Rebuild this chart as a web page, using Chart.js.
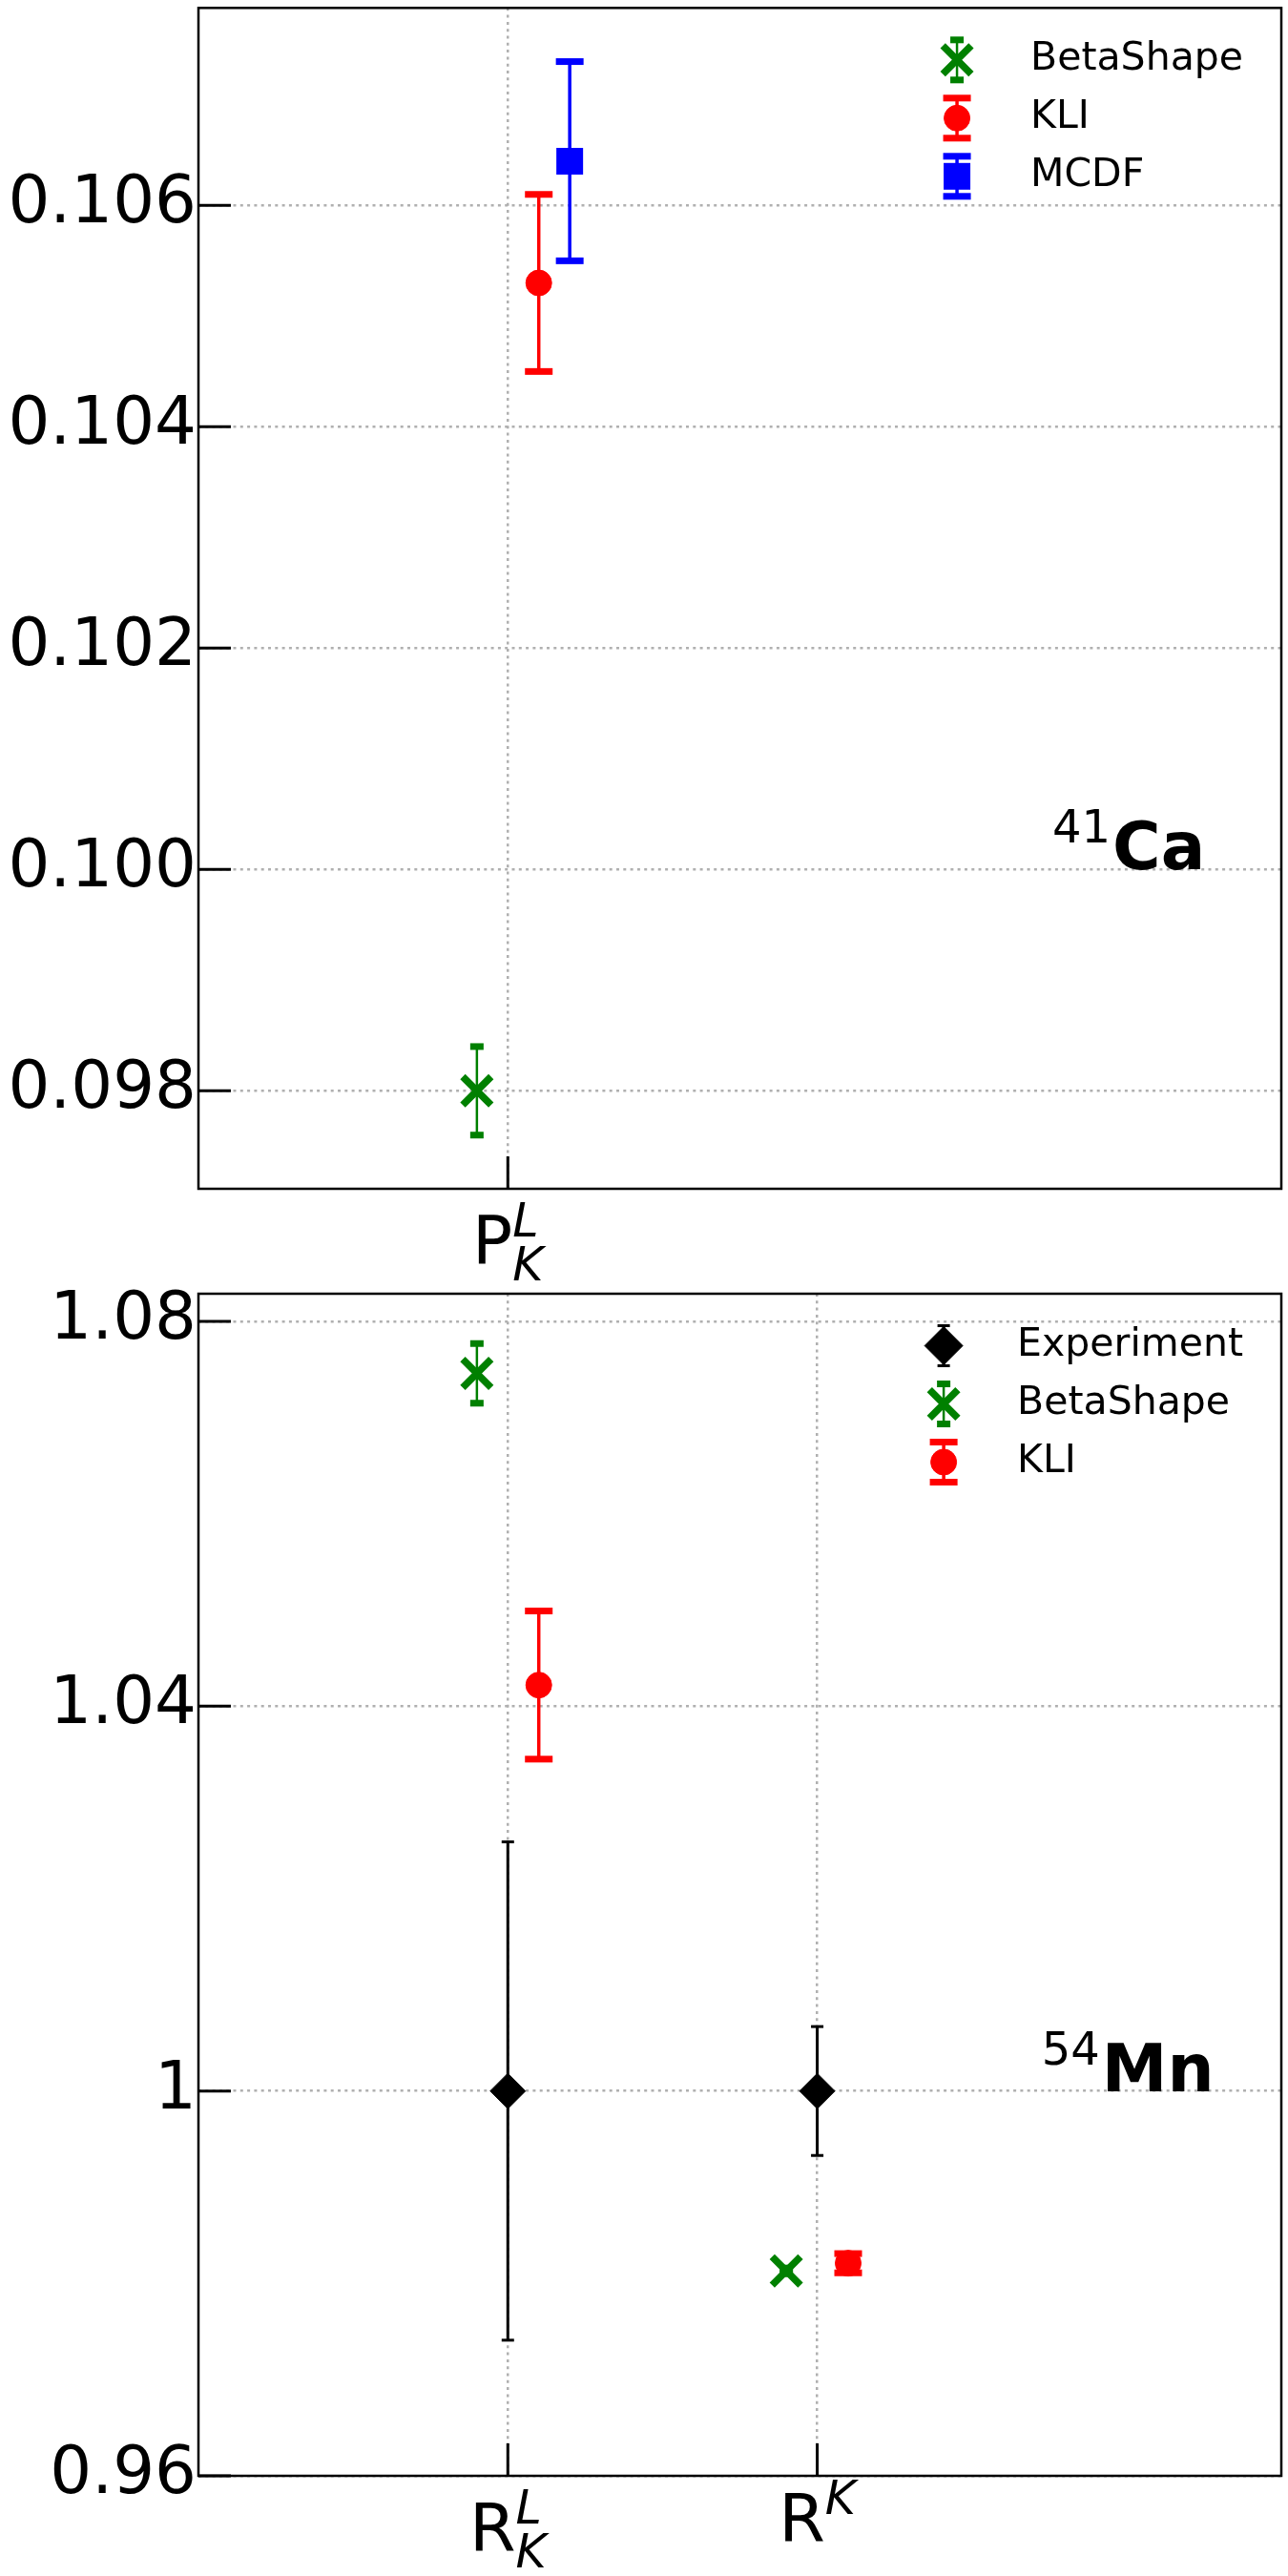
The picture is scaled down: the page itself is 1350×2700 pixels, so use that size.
<!DOCTYPE html>
<html><head><meta charset="utf-8">
<script src="https://cdn.jsdelivr.net/npm/chart.js"></script>
<style>
html,body{margin:0;padding:0;background:#fff;}
#wrap{position:relative;width:1350px;height:2700px;background:#fff;}
.panel{position:absolute;left:0;width:1350px;height:1350px;}
canvas{display:block;}
</style></head><body>
<div id="wrap">
<div class="panel" style="top:0"><canvas id="caChart" width="1350" height="1350"></canvas></div>
<div class="panel" style="top:1350px"><canvas id="mnChart" width="1350" height="1350"></canvas></div>
</div>
<script>
// ---------- DATA ----------
// 41Ca panel
const caCategories = ['P'];
const caCategorySub = ['K'];
const caCategorySup = ['L'];
const caBetaShape = [0.0980];
const caBetaShapeErr = [0.0004];
const caKLI = [0.1053];
const caKLIErr = [0.0008];
const caMCDF = [0.1064];
const caMCDFErr = [0.0009];
const caYTicks = [0.098, 0.100, 0.102, 0.104, 0.106];
const caYTickLabels = ['0.098', '0.100', '0.102', '0.104', '0.106'];

// 54Mn panel
const mnCategories = ['R', 'R'];
const mnCategorySub = ['K', ''];
const mnCategorySup = ['L', 'K'];
const mnExperiment = [1.000, 1.000];
const mnExperimentErr = [0.0259, 0.0067];
const mnBetaShape = [1.0746, 0.9813];
const mnBetaShapeErr = [0.0031, 0.0003];
const mnKLI = [1.0422, 0.9821];
const mnKLIErr = [0.0077, 0.0010];
const mnYTicks = [0.96, 1.00, 1.04, 1.08];
const mnYTickLabels = ['0.96', '1', '1.04', '1.08'];

// ---------- STYLES ----------
const FONT = '"DejaVu Sans", "Liberation Sans", sans-serif';
Chart.defaults.color = '#000';
Chart.defaults.font.family = FONT;

const STY = {
  Experiment: {offset: 0.0, pointStyle: 'rectRot', radius: 18.5, legendRadius: 20, color: '#000000', borderWidth: 1,
               err: {color: '#000000', lineWidth: 3, capW: 13, capH: 3}},
  BetaShape:  {offset: -0.1, pointStyle: 'crossRot', radius: 21, legendRadius: 21, color: '#008000', borderWidth: 7.5, noFill: true,
               err: {color: '#008000', lineWidth: 2.5, capW: 14, capH: 7}},
  KLI:        {offset: 0.1, pointStyle: 'circle', radius: 13.5, legendRadius: 13.5, color: '#ff0000', borderWidth: 1,
               err: {color: '#ff0000', lineWidth: 3.5, capW: 29, capH: 7}},
  MCDF:       {offset: 0.2, pointStyle: 'rect', radius: 19.8, legendRadius: 19.8, color: '#0000ff', borderWidth: 0,
               err: {color: '#0000ff', lineWidth: 3.5, capW: 29, capH: 7}}
};

function makeDataset(name, values, errs) {
  const s = STY[name];
  return {
    label: name,
    data: values.map((v, i) => ({x: i + s.offset, y: v})),
    errors: errs,
    sty: s,
    pointStyle: s.pointStyle,
    pointRadius: s.radius,
    pointHoverRadius: s.radius,
    pointBackgroundColor: s.noFill ? 'rgba(0,0,0,0)' : s.color,
    pointBorderColor: s.color,
    pointBorderWidth: s.borderWidth,
    pointHoverBorderWidth: s.borderWidth,
    showLine: false
  };
}

function autoRange(pairs) {
  let lo = Infinity, hi = -Infinity;
  pairs.forEach(([vals, errs]) => vals.forEach((v, i) => {
    lo = Math.min(lo, v - errs[i]); hi = Math.max(hi, v + errs[i]);
  }));
  const m = (hi - lo) * 0.05;
  return [lo - m, hi + m];
}

function drawErr(ctx, x, y1, y2, st) {
  ctx.save();
  ctx.strokeStyle = st.color;
  ctx.lineWidth = st.lineWidth;
  ctx.beginPath(); ctx.moveTo(x, y1); ctx.lineTo(x, y2); ctx.stroke();
  ctx.fillStyle = st.color;
  ctx.fillRect(x - st.capW / 2, y1 - st.capH / 2, st.capW, st.capH);
  ctx.fillRect(x - st.capW / 2, y2 - st.capH / 2, st.capW, st.capH);
  ctx.restore();
}

function drawMarker(ctx, s, x, y, r) {
  const opts = {pointStyle: s.pointStyle, radius: r, borderWidth: s.borderWidth, rotation: 0};
  ctx.save();
  ctx.fillStyle = s.noFill ? 'rgba(0,0,0,0)' : s.color;
  ctx.strokeStyle = s.color;
  ctx.lineWidth = s.borderWidth;
  Chart.helpers.drawPoint(ctx, opts, x, y);
  ctx.restore();
}

function drawMathLabel(ctx, x, yAxis, base, sub, sup) {
  const baseFont = '70px ' + FONT;
  const scriptFont = 'italic 49px ' + FONT;
  ctx.save();
  ctx.fillStyle = '#000';
  ctx.textAlign = 'left';
  ctx.textBaseline = 'alphabetic';
  ctx.font = baseFont;
  const bw = ctx.measureText(base).width;
  ctx.font = scriptFont;
  const sw = Math.max(sub ? ctx.measureText(sub).width : 0, sup ? ctx.measureText(sup).width : 0);
  const x0 = x - (bw + sw) / 2;
  const baseY = yAxis + (sub ? 78 : 68);
  ctx.font = baseFont;
  ctx.fillText(base, x0, baseY);
  ctx.font = scriptFont;
  if (sup) ctx.fillText(sup, x0 + bw, baseY - 28);
  if (sub) ctx.fillText(sub, x0 + bw, baseY + 18);
  ctx.restore();
}

function panelPlugin(cfg) {
  return {
    id: 'panel_' + cfg.id,
    beforeDatasetsDraw(chart) {
      const ctx = chart.ctx, ys = chart.scales.y;
      chart.data.datasets.forEach((ds, di) => {
        const meta = chart.getDatasetMeta(di);
        meta.data.forEach((pt, i) => {
          const v = ds.data[i].y, e = ds.errors[i];
          if (!e) return;
          drawErr(ctx, pt.x, ys.getPixelForValue(v + e), ys.getPixelForValue(v - e), ds.sty.err);
        });
      });
    },
    afterDraw(chart) {
      const ctx = chart.ctx, a = chart.chartArea, xs = chart.scales.x, ys = chart.scales.y;
      // frame
      ctx.save();
      ctx.strokeStyle = '#000';
      ctx.lineWidth = 2.5;
      ctx.strokeRect(a.left, a.top, a.right - a.left, a.bottom - a.top);
      // inward ticks
      ctx.lineWidth = 3;
      ctx.beginPath();
      ys.ticks.forEach(t => {
        const y = ys.getPixelForValue(t.value);
        ctx.moveTo(a.left, y); ctx.lineTo(a.left + 34, y);
      });
      xs.ticks.forEach(t => {
        const x = xs.getPixelForValue(t.value);
        ctx.moveTo(x, a.bottom); ctx.lineTo(x, a.bottom - 34);
      });
      ctx.stroke();
      ctx.restore();
      // x tick labels with sub/superscripts
      cfg.categories.forEach((c, i) => {
        drawMathLabel(ctx, xs.getPixelForValue(i), a.bottom, c, cfg.sub[i], cfg.sup[i]);
      });
      // legend
      ctx.save();
      const LF = '41px ' + FONT;
      ctx.font = LF;
      const dsets = chart.data.datasets;
      const maxW = Math.max(...dsets.map(d => ctx.measureText(d.label).width));
      const textX = a.right - 40 - maxW;
      const markX = textX - 77;
      dsets.forEach((d, i) => {
        const y = a.top + 54.5 + i * 61;
        drawErr(ctx, markX, y - 21, y + 21, d.sty.err);
        drawMarker(ctx, d.sty, markX, y, d.sty.legendRadius);
        ctx.fillStyle = '#000';
        ctx.font = LF;
        ctx.textAlign = 'left';
        ctx.textBaseline = 'middle';
        ctx.fillText(d.label, textX, y);
      });
      ctx.restore();
      // nucleus annotation
      const n = cfg.note;
      const px = xs.getPixelForValue(n.x), py = ys.getPixelForValue(n.y);
      ctx.save();
      ctx.fillStyle = '#000';
      ctx.textAlign = 'left';
      ctx.textBaseline = 'alphabetic';
      ctx.font = '48px ' + FONT;
      ctx.fillText(n.sup, px, py - 28);
      const w = ctx.measureText(n.sup).width;
      ctx.font = 'bold 69px ' + FONT;
      ctx.fillText(n.main, px + w + 2, py);
      ctx.restore();
    }
  };
}

function zeroPad(s) {
  s.paddingTop = 0; s.paddingBottom = 0; s.paddingLeft = 0; s.paddingRight = 0;
}

function makeChart(canvasId, cfg) {
  return new Chart(document.getElementById(canvasId), {
    type: 'scatter',
    data: {datasets: cfg.datasets},
    options: {
      responsive: false,
      animation: false,
      events: [],
      devicePixelRatio: 1,
      layout: {autoPadding: false, padding: {top: cfg.padTop, right: 7, left: 0, bottom: 0}},
      plugins: {legend: {display: false}, tooltip: {enabled: false}},
      scales: {
        x: {
          type: 'linear', min: -1, max: 2.5, offset: false,
          afterBuildTicks: s => { s.ticks = cfg.categories.map((c, i) => ({value: i})); },
          afterFit: s => { s.height = cfg.xHeight; zeroPad(s); },
          ticks: {display: false},
          grid: {color: '#b0b0b0', lineWidth: 2.5, drawTicks: false},
          border: {display: false, dash: [3, 4.3]}
        },
        y: {
          type: 'linear', min: cfg.yMin, max: cfg.yMax,
          afterBuildTicks: s => { s.ticks = cfg.yTicks.map(v => ({value: v})); },
          afterFit: s => { s.width = 208; zeroPad(s); },
          ticks: {
            autoSkip: false, padding: 2, color: '#000',
            font: {family: FONT, size: 69},
            callback: (v, i) => cfg.yTickLabels[i]
          },
          grid: {color: '#b0b0b0', lineWidth: 2.5, drawTicks: false},
          border: {display: false, dash: [3, 4.3]}
        }
      }
    },
    plugins: [panelPlugin(cfg)]
  });
}

const caRange = autoRange([[caBetaShape, caBetaShapeErr], [caKLI, caKLIErr], [caMCDF, caMCDFErr]]);
makeChart('caChart', {
  id: 'ca',
  datasets: [
    makeDataset('BetaShape', caBetaShape, caBetaShapeErr),
    makeDataset('KLI', caKLI, caKLIErr),
    makeDataset('MCDF', caMCDF, caMCDFErr)
  ],
  categories: caCategories, sub: caCategorySub, sup: caCategorySup,
  yTicks: caYTicks, yTickLabels: caYTickLabels,
  yMin: caRange[0], yMax: caRange[1],
  padTop: 8.3, xHeight: 104,
  note: {x: 1.76, y: 0.100, sup: '41', main: 'Ca'}
});

const mnRange = autoRange([[mnExperiment, mnExperimentErr], [mnBetaShape, mnBetaShapeErr], [mnKLI, mnKLIErr]]);
makeChart('mnChart', {
  id: 'mn',
  datasets: [
    makeDataset('Experiment', mnExperiment, mnExperimentErr),
    makeDataset('BetaShape', mnBetaShape, mnBetaShapeErr),
    makeDataset('KLI', mnKLI, mnKLIErr)
  ],
  categories: mnCategories, sub: mnCategorySub, sup: mnCategorySup,
  yTicks: mnYTicks, yTickLabels: mnYTickLabels,
  yMin: 0.96, yMax: mnRange[1],
  padTop: 6, xHeight: 105,
  note: {x: 1.725, y: 1.000, sup: '54', main: 'Mn'}
});
</script>
</body></html>
